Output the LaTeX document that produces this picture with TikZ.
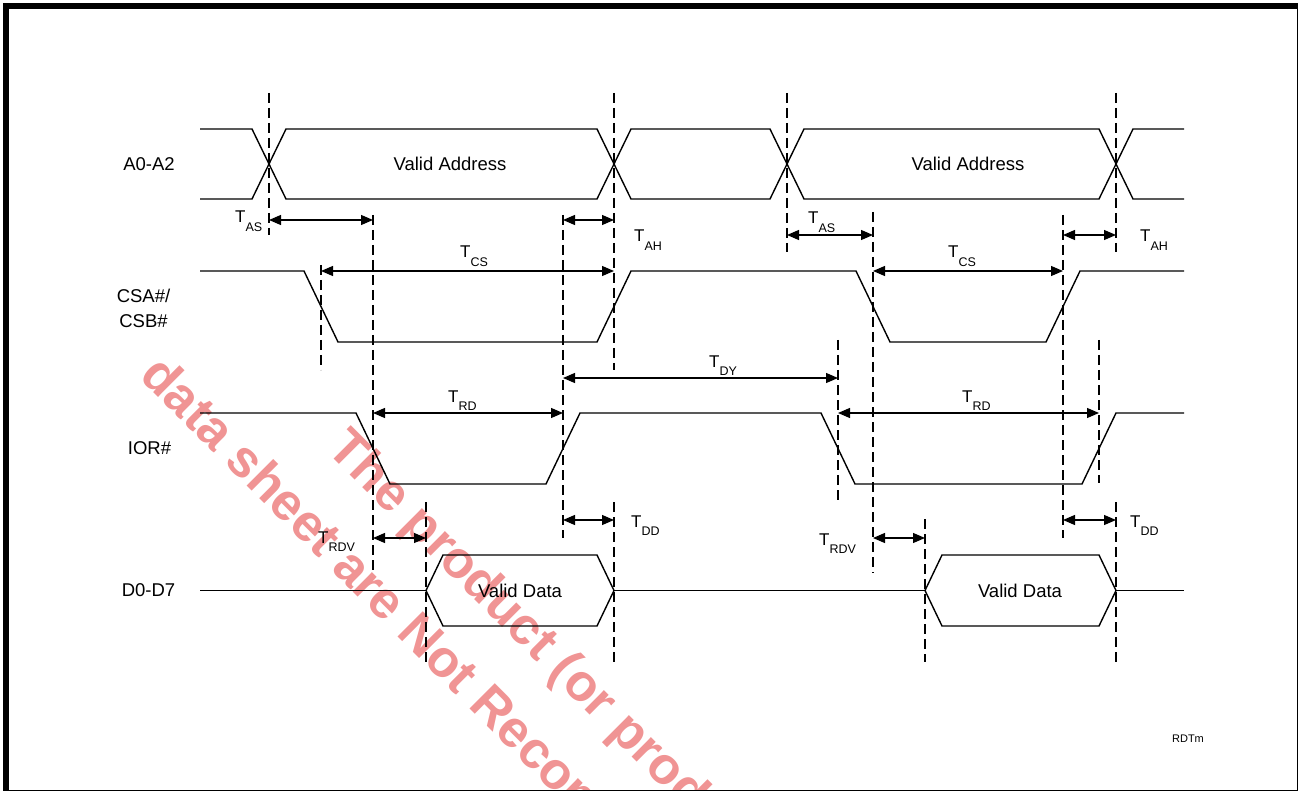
\documentclass[tikz,border=0pt]{standalone}
\usepackage{fontspec}
\setmainfont{Liberation Sans}
\usepackage{xcolor}
\definecolor{wmred}{RGB}{240,148,148}
\usetikzlibrary{arrows.meta}

\tikzset{
  sig/.style={line width=1.4pt, line join=miter},
  guide/.style={line width=1.2pt, dash pattern=on 10pt off 5pt},
  dim/.style={line width=1.2pt, {Triangle[length=12pt,width=10pt]}-{Triangle[length=12pt,width=10pt]}},
  signame/.style={font=\fontsize{18.5}{25}\selectfont, align=center, inner sep=0pt},
  buslbl/.style={font=\fontsize{18.5}{22}\selectfont, inner sep=0pt},
  tlbl/.style={font=\fontsize{17}{20}\selectfont, anchor=base west, inner sep=0pt},
  wmark/.style={wmred, font=\bfseries\fontsize{52}{52}\selectfont, rotate=-45, anchor=base west, inner sep=0pt}
}
\newcommand{\tsub}[1]{T\raisebox{-8.5pt}{\fontsize{12.5}{12.5}\selectfont #1}}

\begin{document}
\begin{tikzpicture}[x=1pt,y=-1pt]
\useasboundingbox (0,0) rectangle (1298,791);
\clip (0,0) rectangle (1298,791);

% watermark under the drawing
\begin{scope}
\clip (9,9) rectangle (1296,789);
\node[wmark] (wmlow) at (138,377) {data sheet are Not Recommended};
\node[wmark] (wmhigh) at (325,450) {The product (or products)};
\end{scope}

\draw[line width=6pt] (6,6) rectangle (1299.5,792.5);

% signal names
\node[signame] (nA) at (149,164) {A0-A2};
\node[signame] (nCS) at (143.5,308) {CSA\#/\\CSB\#};
\node[signame] (nIOR) at (149.5,448.5) {IOR\#};
\node[signame] (nD) at (148.5,590.5) {D0-D7};

% address bus
\def\hw{17}
\foreach \a/\b in {269/614, 614/787, 787/1116}
  \draw[sig] (\a,164) -- (\a+\hw,129) -- (\b-\hw,129) -- (\b,164) -- (\b-\hw,199) -- (\a+\hw,199) -- cycle;
\draw[sig] (200,129) -- (252,129) -- (269,164) -- (252,199) -- (200,199);
\draw[sig] (1184,129) -- (1133,129) -- (1116,164) -- (1133,199) -- (1184,199);
\node[buslbl] (va1) at (450,164) {Valid Address};
\node[buslbl] (va2) at (968,164) {Valid Address};

% chip select and read strobe
\draw[sig] (200,271) -- (304,271) -- (338,342) -- (597,342) -- (631,271) -- (856,271)
  -- (890,342) -- (1046,342) -- (1080,271) -- (1184,271);
\draw[sig] (200,413) -- (356,413) -- (390,484) -- (546,484) -- (580,413) -- (821,413)
  -- (855,484) -- (1082,484) -- (1116,413) -- (1184,413);

% data bus
\foreach \a/\b in {426/614, 925/1116}
  \draw[sig] (\a,590.5) -- (\a+\hw,555) -- (\b-\hw,555) -- (\b,590.5) -- (\b-\hw,626) -- (\a+\hw,626) -- cycle;
\draw[sig] (200,590.5) -- (426,590.5);
\draw[sig] (614,590.5) -- (925,590.5);
\draw[sig] (1116,590.5) -- (1184,590.5);
\node[buslbl] (vd1) at (520,590.5) {Valid Data};
\node[buslbl] (vd2) at (1020,590.5) {Valid Data};

% guide lines
\foreach \x/\ya/\yb in {269/93/235, 614/93/370, 614/502/662, 787/93/252, 1116/93/252,
  373/215/570, 563/215/538, 873/212/573, 1063/215/538, 321/265/370,
  838/340/502, 1099/340/483, 426/502/662, 925/519/662, 1116/502/662}
  \draw[guide] (\x,\ya) -- (\x,\yb);

% timing arrows
\foreach \a/\b/\y in {269/373/220, 563/614/220, 321/614/271, 563/838/378, 373/563/413,
  563/614/520, 373/426/538, 787/873/235, 1063/1116/235, 873/1063/271,
  838/1099/413, 1063/1116/520, 873/925/538}
  \draw[dim] (\a,\y) -- (\b,\y);

\foreach \x/\y/\s/\nm in {235/223/AS/tas1, 634/242/AH/tah1, 460/258/CS/tcs1, 709/367/DY/tdy,
  448/402/RD/trd1, 631/527/DD/tdd1, 318/543/RDV/trdv1, 808/224/AS/tas2, 1140/242/AH/tah2,
  948/258/CS/tcs2, 962/402/RD/trd2, 1130/527/DD/tdd2, 819/545/RDV/trdv2}
  \node[tlbl] (\nm) at (\x,\y) {\tsub{\s}};

\node[font=\fontsize{11}{13}\selectfont, inner sep=0pt] (tag) at (1188,739) {RDTm};
\end{tikzpicture}
\end{document}
